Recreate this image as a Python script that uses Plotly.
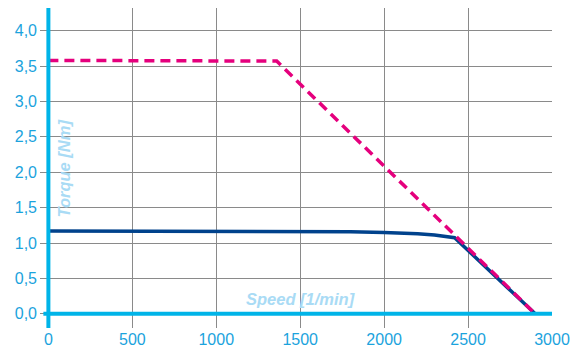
import plotly.graph_objects as go

speed_cont = [0, 500, 1000, 1500, 1800, 2000, 2100, 2200, 2300, 2360, 2420, 2900]
torque_cont = [1.17, 1.17, 1.168, 1.163, 1.158, 1.15, 1.143, 1.132, 1.115, 1.1, 1.075, 0.0]
speed_peak = [0, 1360, 2900]
torque_peak = [3.58, 3.57, 0.0]
x_ticks = [0, 500, 1000, 1500, 2000, 2500, 3000]
y_ticks = [0.0, 0.5, 1.0, 1.5, 2.0, 2.5, 3.0, 3.5, 4.0]
y_labels = [f"{v:.1f}".replace(".", ",") for v in y_ticks]

tick_col = "#1ba3dd"
axis_col = "#00b4e8"
title_col = "#a9dbf5"

fig = go.Figure()
fig.add_trace(go.Scatter(x=speed_cont, y=torque_cont, mode="lines",
                         line=dict(color="#00428c", width=3.5)))
fig.add_trace(go.Scatter(x=speed_peak, y=torque_peak, mode="lines",
                         line=dict(color="#e5007d", width=3.5, dash="10px,6px")))

# axis lines
fig.add_shape(type="line", x0=0, x1=0, y0=-0.2, y1=4.32, xref="x", yref="y",
              line=dict(color=axis_col, width=4))
fig.add_shape(type="line", x0=-30, x1=3000, y0=0, y1=0, xref="x", yref="y",
              line=dict(color=axis_col, width=4))

fig.add_annotation(x=1500, y=0.21, text="<b><i>Speed [1/min]</i></b>", showarrow=False,
                   font=dict(color=title_col, size=16.5, family="Liberation Sans"),
                   xanchor="center", yanchor="middle")
fig.add_annotation(x=92, y=2.05, text="<b><i>Torque [Nm]</i></b>", showarrow=False,
                   textangle=-90,
                   font=dict(color=title_col, size=16.5, family="Liberation Sans"),
                   xanchor="center", yanchor="middle")

fig.update_layout(
    width=578, height=356,
    margin=dict(l=40, r=23, t=8, b=26),
    paper_bgcolor="white", plot_bgcolor="white",
    showlegend=False,
    font=dict(family="Liberation Sans", size=16, color=tick_col),
    xaxis=dict(range=[-50, 3000], tickvals=x_ticks, showgrid=True, gridcolor="#8a8a8a",
               gridwidth=1, zeroline=False, showline=False, ticks="",
               tickfont=dict(size=16, color=tick_col)),
    yaxis=dict(range=[-0.2, 4.32], tickvals=y_ticks, ticktext=y_labels, showgrid=True,
               gridcolor="#8a8a8a", gridwidth=1, zeroline=False, showline=False, ticks="",
               ticklabelstandoff=2, tickfont=dict(size=16, color=tick_col)),
)

fig.write_html("out.html")
